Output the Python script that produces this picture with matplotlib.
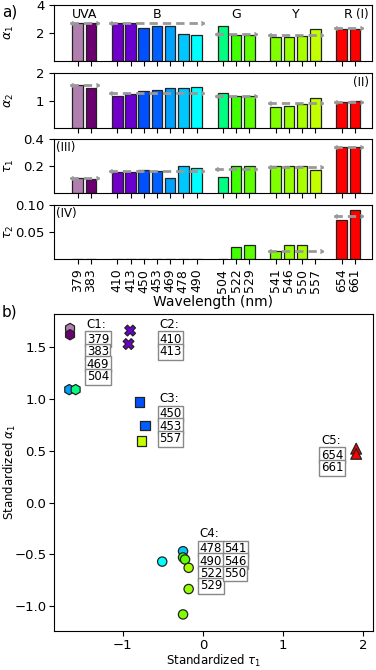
import numpy as np
import matplotlib
matplotlib.use("Agg")
import matplotlib.pyplot as plt

# ---- panel a data ----
groups = ["UVA", "B", "G", "Y", "R"]
group_sizes = [2, 7, 3, 4, 2]
wavelengths = [379, 383, 410, 413, 450, 453, 469, 478, 490,
               504, 522, 529, 541, 546, 550, 557, 654, 661]
bar_colors = ["#b07fb0", "#6b0070", "#7000c8", "#6a00d0", "#0050ff", "#0060ff",
              "#00a0ff", "#00c8ff", "#00ffff", "#00ff80", "#40ff00", "#5eff00",
              "#80ff00", "#95ff00", "#a8ff00", "#c3ff00", "#ff0000", "#ff0000"]

alpha1 = [2.73, 2.72, 2.68, 2.70, 2.37, 2.48, 2.53, 1.93, 1.88,
          2.53, 1.88, 1.88, 1.68, 1.75, 1.82, 2.31, 2.29, 2.27]
alpha1_mean = [2.75, 2.73, 1.93, 1.85, 2.34]
alpha2 = [1.58, 1.46, 1.16, 1.24, 1.34, 1.37, 1.44, 1.46, 1.50,
          1.28, 1.16, 1.16, 0.78, 0.81, 0.88, 1.10, 0.93, 0.97]
alpha2_mean = [1.55, 1.29, 1.18, 0.90, 0.96]
tau1 = [0.109, 0.107, 0.158, 0.158, 0.168, 0.165, 0.109, 0.202, 0.183,
        0.116, 0.200, 0.200, 0.200, 0.202, 0.200, 0.168, 0.338, 0.338]
tau1_mean = [0.11, 0.165, 0.18, 0.196, 0.338]
tau2 = [0, 0, 0, 0, 0, 0, 0, 0, 0,
        0, 0.023, 0.0265, 0.014, 0.026, 0.026, 0, 0.073, 0.091]
tau2_mean = [None, None, None, 0.015, 0.080]

# ---- panel b data ----
clusters = ["C1", "C2", "C3", "C4", "C5"]
c1_wl = [379, 383, 469, 504]
c1_x = [-1.66, -1.66, -1.67, -1.59]
c1_y = [1.68, 1.62, 1.09, 1.09]
c2_wl = [410, 413]
c2_x = [-0.93, -0.91]
c2_y = [1.53, 1.66]
c3_wl = [450, 453, 557]
c3_x = [-0.79, -0.725, -0.77]
c3_y = [0.97, 0.745, 0.595]
c4_wl = [478, 490, 522, 529, 541, 546, 550]
c4_x = [-0.25, -0.51, -0.25, -0.225, -0.25, -0.18, -0.18]
c4_y = [-0.47, -0.57, -0.53, -0.55, -1.08, -0.835, -0.63]
c5_wl = [654, 661]
c5_x = [1.91, 1.91]
c5_y = [0.52, 0.47]

# bar positions: one slot gap between groups
pos = []
start = 0
starts = []
for n in group_sizes:
    starts.append(start)
    pos += list(range(start, start + n))
    start += n + 1
pos = np.array(pos)
color_of = dict(zip(wavelengths, bar_colors))

fig = plt.figure(figsize=(3.76, 6.70), dpi=100)
W, H = 376, 670

def px_axes(l, t, r, b):
    return fig.add_axes([l / W, 1 - b / H, (r - l) / W, (b - t) / H])

tops = [(5, 61), (73, 128), (139, 193), (205, 259)]
series = [alpha1, alpha2, tau1, tau2]
means = [alpha1_mean, alpha2_mean, tau1_mean, tau2_mean]
ylabels = [r"$\alpha_1$", r"$\alpha_2$", r"$\tau_1$", r"$\tau_2$"]
ylims = [(0, 4), (0, 2), (0, 0.4), (0, 0.1)]
yticks = [[2, 4], [1, 2], [0.2, 0.4], [0.05, 0.10]]
yticklabels = [["2", "4"], ["1", "2"], ["0.2", "0.4"], ["0.05", "0.10"]]
roman = ["(I)", "(II)", "(III)", "(IV)"]

axes_a = []
for i in range(4):
    ax = px_axes(54, tops[i][0], 372, tops[i][1])
    axes_a.append(ax)
    ax.bar(pos, series[i], width=0.8, color=bar_colors, edgecolor="#222222",
           linewidth=0.9)
    for g, m in enumerate(means[i]):
        if m is None:
            continue
        x0 = starts[g] - 0.6
        x1 = starts[g] + group_sizes[g] - 1 + 0.6
        ax.plot([x0, x1], [m, m], ls="--", color="#999999", lw=2,
                dashes=(3, 1.8), zorder=3)
        ax.plot([x0], [m], marker=4, color="#999999", ms=3, mew=1, zorder=3)
        ax.plot([x1], [m], marker=5, color="#999999", ms=3, mew=1, zorder=3)
    ax.set_xlim(-1.8, 22.3)
    ax.set_ylim(*ylims[i])
    ax.set_yticks(yticks[i])
    ax.set_yticklabels(yticklabels[i], fontsize=9.5)
    ax.set_xticks(pos)
    ax.set_ylabel(ylabels[i], fontsize=9)
    ax.yaxis.set_label_coords(-0.12, 0.5)
    if i < 3:
        ax.set_xticklabels([])
    else:
        ax.set_xticklabels([str(w) for w in wavelengths], rotation=90,
                           fontsize=9)
        ax.set_xlabel("Wavelength (nm)", fontsize=10, labelpad=2)
    if i < 2:
        ax.text(0.99, 0.95, roman[i], transform=ax.transAxes, ha="right",
                va="top", fontsize=8.5)
    else:
        ax.text(0.005, 0.97, roman[i], transform=ax.transAxes, ha="left",
                va="top", fontsize=8.5)

# group names on the first panel
for g, name in enumerate(groups):
    xc = starts[g] + (group_sizes[g] - 1) / 2
    axes_a[0].text(xc, 3.3, name, ha="center", va="center", fontsize=9)

fig.text(2 / W, 1 - 12 / H, "a)", fontsize=11, ha="left", va="center")
fig.text(2 / W, 1 - 312 / H, "b)", fontsize=11, ha="left", va="center")

# ---- panel b ----
axb = px_axes(54, 314, 373, 631)

def scat(xs, ys, wls, marker, s):
    axb.scatter(xs, ys, c=[color_of[w] for w in wls], marker=marker, s=s,
                edgecolors="#222222", linewidths=0.9, zorder=3)

scat(c1_x, c1_y, c1_wl, "h", 55)
scat(c2_x, c2_y, c2_wl, "X", 60)
scat(c3_x, c3_y, c3_wl, "s", 45)
scat(c4_x, c4_y, c4_wl, "o", 45)
scat(c5_x, c5_y, c5_wl, "^", 60)

box = dict(boxstyle="square,pad=0.12", fc="white", ec="#888888", lw=1)
row_h = 0.12

def label_block(name, x, y, wls, ncol_rows=None):
    axb.text(x, y, name + ":", fontsize=8.5, ha="left", va="center")
    if ncol_rows is None:
        ncol_rows = len(wls)
    for k, w in enumerate(wls):
        col = k // ncol_rows
        row = k % ncol_rows
        axb.text(x + col * 0.30, y - (row + 1) * row_h - 0.025, str(w),
                 fontsize=8.5, ha="left", va="center", bbox=box)

label_block(clusters[0], -1.45, 1.72, c1_wl)
label_block(clusters[1], -0.55, 1.72, c2_wl)
label_block(clusters[2], -0.55, 1.00, c3_wl)
label_block(clusters[3], -0.04, -0.30, c4_wl, ncol_rows=4)
label_block(clusters[4], 1.47, 0.60, c5_wl)

axb.set_xlim(-1.86, 2.12)
axb.set_ylim(-1.24, 1.82)
axb.set_xticks([-1, 0, 1, 2])
axb.set_yticks([-1.0, -0.5, 0.0, 0.5, 1.0, 1.5])
axb.tick_params(labelsize=9.5, pad=2)
axb.set_xlabel(r"Standardized $\tau_1$", fontsize=8.5, labelpad=1)
axb.set_ylabel(r"Standardized $\alpha_1$", fontsize=8.5)
axb.yaxis.set_label_coords(-0.112, 0.5)

fig.savefig("out.png", dpi=100)
